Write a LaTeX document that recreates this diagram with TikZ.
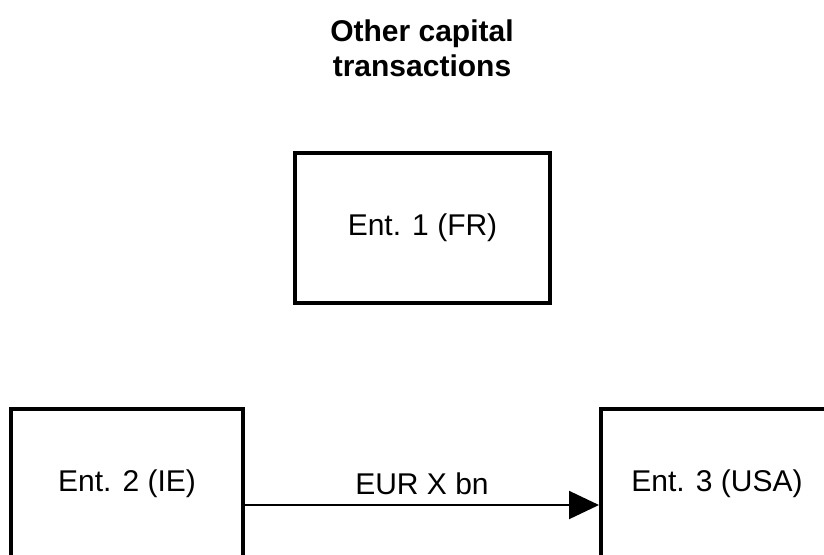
\documentclass[tikz,border=0pt]{standalone}
\usepackage{fontspec}
\setmainfont{Liberation Sans}
\usetikzlibrary{arrows.meta}
\begin{document}
\begin{tikzpicture}[x=0.75pt,y=-0.75pt,
  entity/.style={draw=black, line width=3pt, inner sep=0pt,
    minimum height=112.5pt, font=\fontsize{22.5}{27}\selectfont},
  flow/.style={line width=1.5pt, -{Triangle[length=22.5pt,width=21pt]}},
  heading/.style={align=center, inner sep=0pt,
    font=\fontsize{22.5}{26.5}\selectfont\bfseries},
  amount/.style={inner sep=0pt, font=\fontsize{22.5}{27}\selectfont}]
\useasboundingbox (0,0) rectangle (824,554);
\clip (0,0) rectangle (824,554);

% title
\node[heading] (title) at (422,48) {Other capital\\transactions};

% entities
\node[entity, minimum width=191.25pt] (e1) at (422.5,228) {Ent. 1 (FR)};
\node[entity, minimum width=174pt] (e2) at (127,484) {Ent. 2 (IE)};
\node[entity, minimum width=174pt] (e3) at (717,484) {Ent. 3 (USA)};

% transaction between Ent. 2 and Ent. 3
\coordinate (flowy) at (0,505);
\draw[flow] (e2.east |- flowy) -- (e3.west |- flowy);
\node[amount] (amt) at (422,484) {EUR X bn};
\end{tikzpicture}
\end{document}
